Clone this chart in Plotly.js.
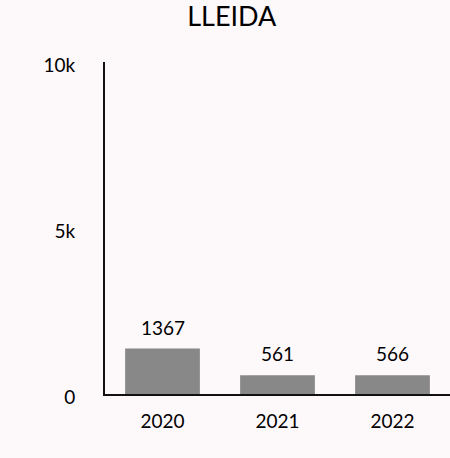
<!DOCTYPE html>
<html><head><meta charset="utf-8">
<script src="https://cdn.plot.ly/plotly-3.0.1.min.js"></script>
<style>html,body{margin:0;padding:0;background:#fdf8fa;}</style>
</head><body>
<div id="chart" style="width:450px;height:458px;"></div>
<script>
const years = ['2020', '2021', '2022'];
const values = [1367, 561, 566];
const yTickVals = [0, 5000, 10000];
const yTickText = ['0', '5k', '10k'];

const data = [{
  type: 'bar',
  x: years,
  y: values,
  marker: {color: '#888888'},
  hoverinfo: 'none'
}];

const annotations = years.map((yr, i) => ({
  x: i, y: values[i], xref: 'x', yref: 'y',
  text: String(values[i]), showarrow: false,
  yanchor: 'bottom', yshift: 8,
  font: {family: 'Lato', size: 19, color: '#000000'}
}));

const layout = {
  width: 450, height: 458,
  paper_bgcolor: '#fdf8fa', plot_bgcolor: '#fdf8fa',
  font: {family: 'Lato', size: 19, color: '#000000'},
  title: {text: 'LLEIDA', font: {family: 'Lato', size: 27, color: '#000000'}, x: 0.515, xanchor: 'center', y: 0.985, yanchor: 'top'},
  margin: {l: 105, r: 0, t: 62, b: 64},
  bargap: 0.35,
  showlegend: false,
  xaxis: {
    type: 'category', range: [-0.5, 2.5], showgrid: false, zeroline: false,
    showline: true, linecolor: '#111111', linewidth: 2,
    ticks: '', ticklabelstandoff: 9,
    tickfont: {family: 'Lato', size: 19, color: '#000000'}
  },
  yaxis: {
    range: [0, 10000], showgrid: false, zeroline: false,
    showline: true, linecolor: '#111111', linewidth: 2,
    tickvals: yTickVals, ticktext: yTickText,
    ticks: '', ticklabelstandoff: 24, ticklabelshift: 3,
    tickfont: {family: 'Lato', size: 19, color: '#000000'}
  },
  annotations: annotations
};

Plotly.newPlot('chart', data, layout, {displayModeBar: false, staticPlot: true});
</script>
</body></html>
